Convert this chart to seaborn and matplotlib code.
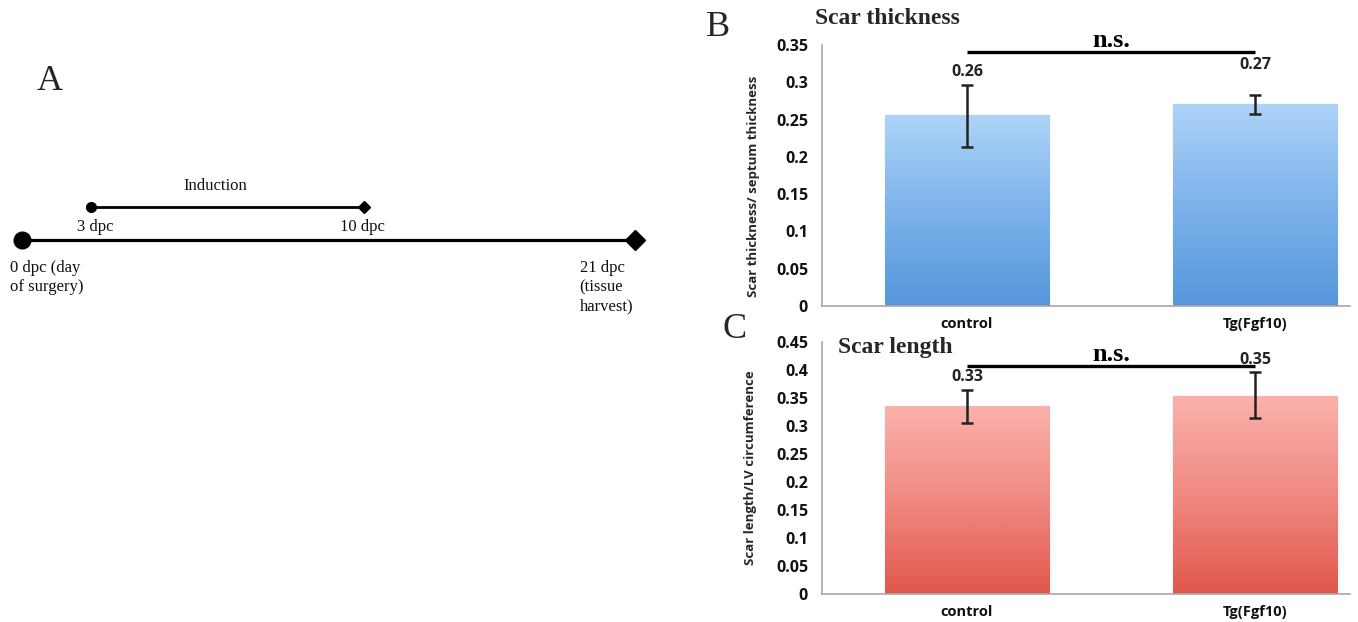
import numpy as np
import pandas as pd
import matplotlib
matplotlib.use("Agg")
import matplotlib.pyplot as plt
import seaborn as sns
from matplotlib.colors import LinearSegmentedColormap

# ---------------- data ----------------
groups = ["control", "Tg(Fgf10)"]

thick_mean = [0.256, 0.271]
thick_lo = [0.213, 0.257]
thick_hi = [0.297, 0.283]
thick_text = ["0.26", "0.27"]
thick_ticks = [0, 0.05, 0.1, 0.15, 0.2, 0.25, 0.3, 0.35]
thick_ticklabels = ["0", "0.05", "0.1", "0.15", "0.2", "0.25", "0.3", "0.35"]

length_mean = [0.336, 0.354]
length_lo = [0.306, 0.314]
length_hi = [0.365, 0.396]
length_text = ["0.33", "0.35"]
length_ticks = [0, 0.05, 0.1, 0.15, 0.2, 0.25, 0.3, 0.35, 0.4, 0.45]
length_ticklabels = ["0", "0.05", "0.1", "0.15", "0.2", "0.25", "0.3", "0.35", "0.4", "0.45"]

# timeline (schematic, not to scale)
main_labels = ["0 dpc (day\nof surgery)", "21 dpc\n(tissue\nharvest)"]
induction_labels = ["3 dpc", "10 dpc"]
main_pos = [0, 21]
induction_pos = [2.36, 11.7]

# ---------------- style ----------------
sns.set_theme(style="white")
plt.rcParams["font.family"] = ["Open Sans", "DejaVu Sans"]
SERIF = ["Liberation Serif", "DejaVu Serif"]
TICKFONT = ["Open Sans", "DejaVu Sans"]

fig = plt.figure(figsize=(13.58, 6.22), dpi=100)
W, H = 1358, 622


def px_axes(left, right, top, bottom):
    return fig.add_axes([left / W, 1 - bottom / H, (right - left) / W, (bottom - top) / H])


blue_cmap = LinearSegmentedColormap.from_list("b", ["#5696da", "#7db3eb", "#aed3f8"])
red_cmap = LinearSegmentedColormap.from_list("r", ["#e0574c", "#f08a82", "#fbb2ac"])


def bar_panel(ax, means, lo, hi, texts, ticks, ticklabels, ylabel, cmap, edge,
              sig_y, ylim, text_off, ylabel_pos):
    df = pd.DataFrame({"group": groups, "value": means})
    sns.barplot(data=df, x="group", y="value", ax=ax, width=0.57, color=edge,
                errorbar=None, edgecolor=edge, linewidth=0.8, saturation=1)
    grad = np.linspace(0, 1, 256).reshape(-1, 1)
    for p in ax.patches:
        x0, y0 = p.get_x(), p.get_y()
        w, h = p.get_width(), p.get_height()
        im = ax.imshow(grad, extent=[x0, x0 + w, y0, y0 + h], origin="lower",
                       aspect="auto", cmap=cmap, zorder=p.get_zorder() + 0.1)
        im.set_clip_path(p)
    means = np.array(means)
    lo = np.array(lo)
    hi = np.array(hi)
    xs = np.arange(len(groups))
    ax.errorbar(xs, means, yerr=[means - lo, hi - means], fmt="none",
                ecolor="#222222", elinewidth=1.8, capsize=4.5, capthick=1.8, zorder=5)
    for x, top, t, off in zip(xs, hi, texts, text_off):
        ax.annotate(t, (x, top), xytext=(0, off), textcoords="offset points",
                    ha="center", va="bottom", fontsize=11.5, fontweight="bold",
                    family=TICKFONT, color="#222222")
    # significance bar
    ax.plot([xs[0], xs[-1]], [sig_y, sig_y], color="black", lw=2.4, zorder=6,
            clip_on=False, solid_capstyle="butt")
    ax.text((xs[0] + xs[-1]) / 2, sig_y, "n.s.", ha="center", va="bottom",
            fontsize=19, fontweight="bold", family=SERIF, color="black")
    ax.set_xlim(-0.503, 1.33)
    ax.set_ylim(*ylim)
    ax.set_yticks(ticks)
    ax.set_yticklabels(ticklabels)
    ax.set_xlabel("")
    ax.set_ylabel(ylabel, fontsize=9.5, fontweight="bold", family=TICKFONT)
    ax.yaxis.set_label_coords(*ylabel_pos)
    ax.tick_params(axis="y", length=0, labelsize=11.5, pad=10)
    ax.tick_params(axis="x", length=0, labelsize=10.5, pad=8)
    for lab in ax.get_xticklabels() + ax.get_yticklabels():
        lab.set_fontweight("bold")
        lab.set_family(TICKFONT)
        lab.set_color("#111111")
    for s in ["top", "right"]:
        ax.spines[s].set_visible(False)
    for s in ["left", "bottom"]:
        ax.spines[s].set_color("#a8a8a8")
        ax.spines[s].set_linewidth(1.2)


# ---------------- panel B ----------------
axB = px_axes(822, 1350, 45, 306)
bar_panel(axB, thick_mean, thick_lo, thick_hi, thick_text, thick_ticks,
          thick_ticklabels, "Scar thickness/ septum thickness", blue_cmap, "#4a8ad0",
          0.3405, (0, 0.35), [3, 16], (-0.117, 0.46))
axB.text(-0.013, 1.103, "Scar thickness", transform=axB.transAxes, ha="left",
         va="center", fontsize=17, fontweight="bold", family=SERIF)

# ---------------- panel C ----------------
axC = px_axes(822, 1350, 342, 594)
bar_panel(axC, length_mean, length_lo, length_hi, length_text, length_ticks,
          length_ticklabels, "Scar length/LV circumference", red_cmap, "#d04a40",
          0.407, (0, 0.45), [3, 3], (-0.123, 0.50))
axC.text(0.03, 0.98, "Scar length", transform=axC.transAxes, ha="left",
         va="center", fontsize=17, fontweight="bold", family=SERIF)

# ---------------- panel A (timeline) ----------------
axA = px_axes(22, 635, 0, 622)
axA.set_xlim(0, 21)
axA.set_ylim(622, 0)
axA.axis("off")
main_y, ind_y = 240, 207
axA.plot(main_pos, [main_y, main_y], color="black", lw=2.3, zorder=1)
axA.plot(main_pos[:1], [main_y], marker="o", ms=12, color="black", zorder=2, clip_on=False)
axA.plot(main_pos[1:], [main_y], marker="D", ms=10, color="black", zorder=2, clip_on=False)
axA.plot(induction_pos, [ind_y, ind_y], color="black", lw=2.0, zorder=1)
axA.plot(induction_pos[:1], [ind_y], marker="o", ms=7, color="black", zorder=2)
axA.plot(induction_pos[1:], [ind_y], marker="D", ms=6, color="black", zorder=2)

tfont = dict(family=SERIF, fontsize=12, color="#111111")
axA.text(np.mean(induction_pos) - 0.4, 186, "Induction", ha="center", va="center", **tfont)
axA.text(induction_pos[0] + 0.15, 227, induction_labels[0], ha="center", va="center", **tfont)
axA.text(induction_pos[1] - 0.05, 227, induction_labels[1], ha="center", va="center", **tfont)
axA.text(main_pos[0] - 0.41, 260, main_labels[0], ha="left", va="top",
         linespacing=1.25, clip_on=False, **tfont)
axA.text(main_pos[1] - 1.9, 260, main_labels[1], ha="left", va="top",
         linespacing=1.25, clip_on=False, **tfont)

# ---------------- panel letters ----------------
fig.text(50 / W, 1 - 82 / H, "A", ha="center", va="center", fontsize=26, family=SERIF)
fig.text(718 / W, 1 - 28 / H, "B", ha="center", va="center", fontsize=26, family=SERIF)
fig.text(735 / W, 1 - 330 / H, "C", ha="center", va="center", fontsize=26, family=SERIF)

fig.savefig("out.png", dpi=100)
